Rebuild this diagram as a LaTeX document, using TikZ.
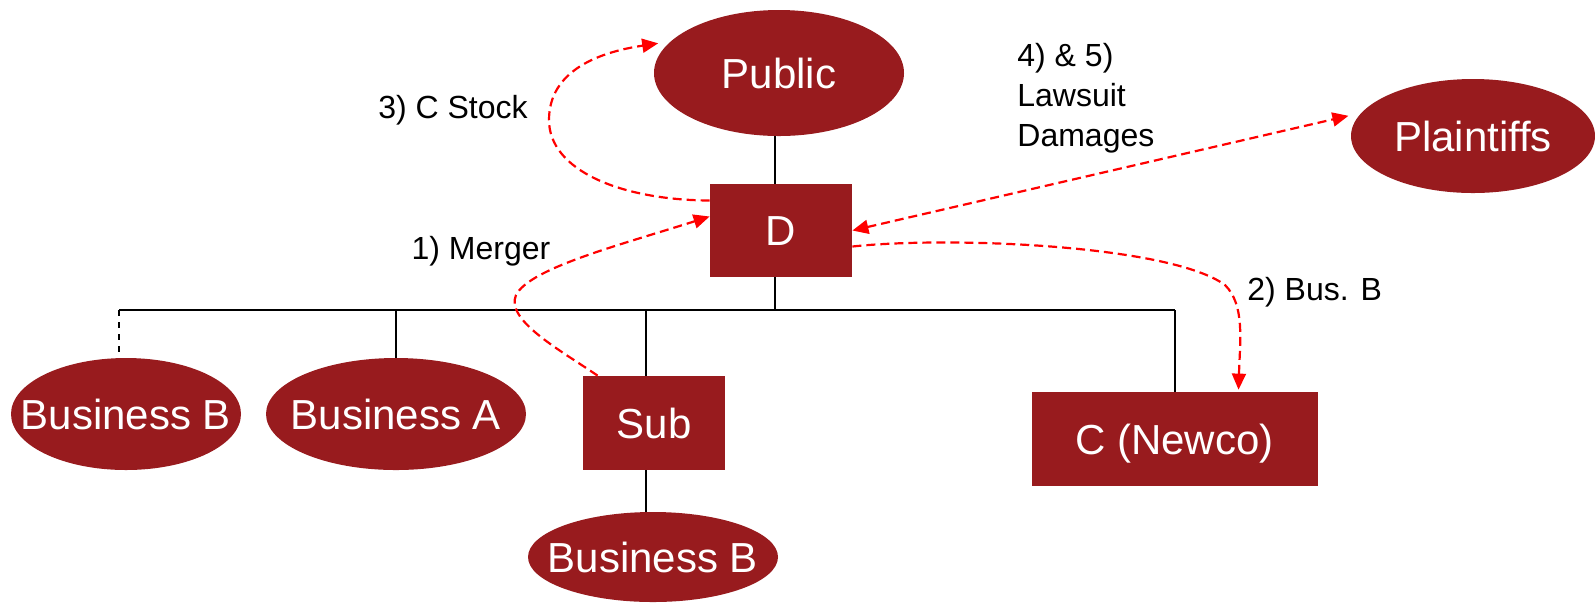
\documentclass[tikz,border=0pt]{standalone}
\usepackage{fontspec}
\setmainfont{Liberation Sans}
\usetikzlibrary{shapes.geometric,arrows.meta,calc}
\definecolor{boxred}{RGB}{152,27,30}
\begin{document}
\begin{tikzpicture}[x=0.5pt,y=-0.5pt,
  entity/.style={fill=boxred,draw=none,text=white,inner sep=0pt,
    font=\fontsize{21}{25}\selectfont,text height=15pt,text depth=0pt},
  oval/.style={entity,ellipse},
  block/.style={entity,rectangle},
  tie/.style={draw=black,line width=1pt},
  flow/.style={draw=red,line width=1.1pt,dash pattern=on 4.5pt off 2.5pt},
  tip/.style={-{Triangle[length=8pt,width=7pt]}},
  tips/.style={{Triangle[length=8pt,width=7pt]}-{Triangle[length=8pt,width=7pt]}},
  note/.style={font=\fontsize{16}{20}\selectfont,inner sep=0pt,text=black}]
\useasboundingbox (0,0) rectangle (1595,602);

% entities
\node[oval,minimum width=125pt,minimum height=63pt] (Public) at (779,73) {\makebox[0pt]{Public}};
\node[oval,minimum width=122pt,minimum height=57pt] (Plaintiffs) at (1473,136) {\makebox[0pt]{Plaintiffs}};
\node[block,minimum width=71pt,minimum height=46.5pt] (D) at (781,230.5) {\makebox[0pt]{D}};
\node[oval,minimum width=115pt,minimum height=56pt] (BusB1) at (126,414) {\makebox[0pt]{Business B}};
\node[oval,minimum width=130pt,minimum height=56pt] (BusA) at (396,414) {\makebox[0pt]{Business A}};
\node[block,minimum width=71pt,minimum height=47pt] (Sub) at (654,423) {\makebox[0pt]{Sub}};
\node[oval,minimum width=125pt,minimum height=45pt] (BusB2) at (653,557) {\makebox[0pt]{Business B}};
\node[block,minimum width=143pt,minimum height=47pt] (C) at (1174.5,439) {\makebox[0pt]{C (Newco)}};

% ownership tree
\coordinate (busL) at (119,310);
\coordinate (busR) at (1174.5,310);
\draw[tie] ([xshift=-3pt]D.north) -- ([xshift=-3pt]D.north |- Public.south);
\draw[tie] ([xshift=-3pt]D.south) -- ([xshift=-3pt]D.south |- busL);
\draw[tie] (busL) -- (busR);
\draw[tie,dashed] (busL) -- (busL |- BusB1.north);
\draw[tie] (BusA.north) -- (BusA.north |- busL);
\draw[tie] ([xshift=-4pt]Sub.north) -- ([xshift=-4pt]Sub.north |- busL);
\draw[tie] ([xshift=-4pt]Sub.south) -- ([xshift=-4pt]Sub.south |- BusB2.north);
\draw[tie] (C.north) -- (busR);

% transaction steps
\draw[flow,tip] ([xshift=7.5pt]Sub.north west) .. controls (560,350) and (505,320) .. (516,295)
  .. controls (530,268) and (620,245) .. ([yshift=7pt]D.west);
\draw[flow,tip] ([yshift=-8pt]D.east) .. controls (950,236) and (1170,245) .. (1225,285)
  .. controls (1245,305) and (1240,340) .. ([xshift=32pt,yshift=1pt]C.north);
\draw[flow,tip] ([yshift=15pt]D.west) .. controls (620,200) and (549,170) .. (549,120)
  .. controls (549,70) and (600,52) .. ([xshift=-5pt]Public.165);
\draw[flow,tips] (D.east) -- ([xshift=-5pt]Plaintiffs.170);

% step labels
\node[note] (cstock) at (453,110) {3) C Stock};
\node[note] (merger) at (481,251) {1) Merger};
\node[note,anchor=west,align=left] (suit) at (1017,98) {4) \& 5)\\Lawsuit\\Damages};
\node[note,anchor=west] (busb) at (1247,292) {2) Bus. B};
\end{tikzpicture}
\end{document}
